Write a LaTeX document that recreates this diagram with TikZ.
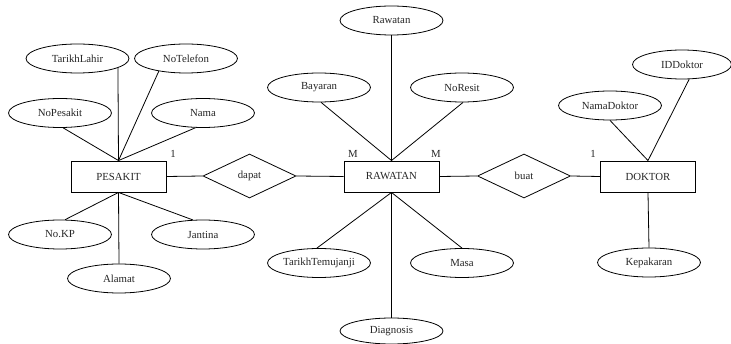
\documentclass[tikz,border=0pt]{standalone}
\usepackage{fontspec}
\setmainfont{Liberation Serif}
\usetikzlibrary{shapes.geometric}
\begin{document}
\begin{tikzpicture}[x=1pt,y=-1pt,
  every node/.style={font=\fontsize{10.8}{12}\selectfont, text=black!85},
  ent/.style={draw, line width=0.9pt, minimum width=95pt, minimum height=31pt, inner sep=0pt},
  attr/.style={draw, ellipse, line width=0.8pt, fill=white, minimum width=103pt, minimum height=29pt, inner sep=0pt},
  rel/.style={draw, diamond, line width=0.8pt, minimum width=93pt, minimum height=44pt, inner sep=0pt},
  card/.style={inner sep=0pt},
  conn/.style={line width=0.8pt}]
\useasboundingbox (0,0) rectangle (731,344);
% entities
\node[ent] (pes) at (118.5,176.5) {PESAKIT};
\node[ent] (raw) at (391.5,176.5) {RAWATAN};
\node[ent] (dok) at (648,176.5) {DOKTOR};
% relationships
\node[rel] (dapat) at (249.5,176) {dapat};
\node[rel] (buat) at (524,176) {buat};
% PESAKIT attributes
\node[attr] (tl) at (77.5,58.5) {TarikhLahir};
\node[attr] (nt) at (186,58.5) {NoTelefon};
\node[attr] (np) at (60,113) {NoPesakit};
\node[attr] (nm) at (203,113) {Nama};
\node[attr] (kp) at (60,234.5) {No.KP};
\node[attr] (jt) at (203,234.5) {Jantina};
\node[attr] (al) at (119,278.5) {Alamat};
% RAWATAN attributes
\node[attr] (rw) at (391.5,20.5) {Rawatan};
\node[attr] (by) at (319,87.5) {Bayaran};
\node[attr] (nr) at (462,87.5) {NoResit};
\node[attr] (tt) at (319,263) {TarikhTemujanji};
\node[attr] (ms) at (462,263) {Masa};
\node[attr, minimum height=26pt] (dg) at (391.5,331) {Diagnosis};
% DOKTOR attributes
\node[attr] (nd) at (610,105.5) {NamaDoktor};
\node[attr, minimum width=99pt] (id) at (682,64.5) {IDDoktor};
\node[attr] (kk) at (649,262.5) {Kepakaran};
% cardinalities
\node[card] (c1) at (173,154) {1};
\node[card] (c2) at (353,154) {M};
\node[card] (c3) at (436,154) {M};
\node[card] (c4) at (593,154) {1};
% connectors
\draw[conn] (pes.east) -- (dapat.west);
\draw[conn] (dapat.east) -- (raw.west);
\draw[conn] (raw.east) -- (buat.west);
\draw[conn] (buat.east) -- (dok.west);
\draw[conn] (pes.north) -- (tl.-13.5);
\draw[conn] (pes.north) -- (nt.-155);
\draw[conn] (pes.north) -- (np.-78);
\draw[conn] (pes.north) -- (nm.-117);
\draw[conn] (pes.south) -- (kp.71);
\draw[conn] (pes.south) -- (jt.125);
\draw[conn] (pes.south) -- (al.north);
\draw[conn] (raw.north) -- (rw.south);
\draw[conn] (raw.north) -- (by.-82);
\draw[conn] (raw.north) -- (nr.-86);
\draw[conn] (raw.south) -- (tt.98);
\draw[conn] (raw.south) -- (ms.north);
\draw[conn] (raw.south) -- (dg.north);
\draw[conn] (dok.north) -- (nd.south);
\draw[conn] (dok.north) -- (id.-64);
\draw[conn] (dok.south) -- (kk.north);
\end{tikzpicture}
\end{document}
